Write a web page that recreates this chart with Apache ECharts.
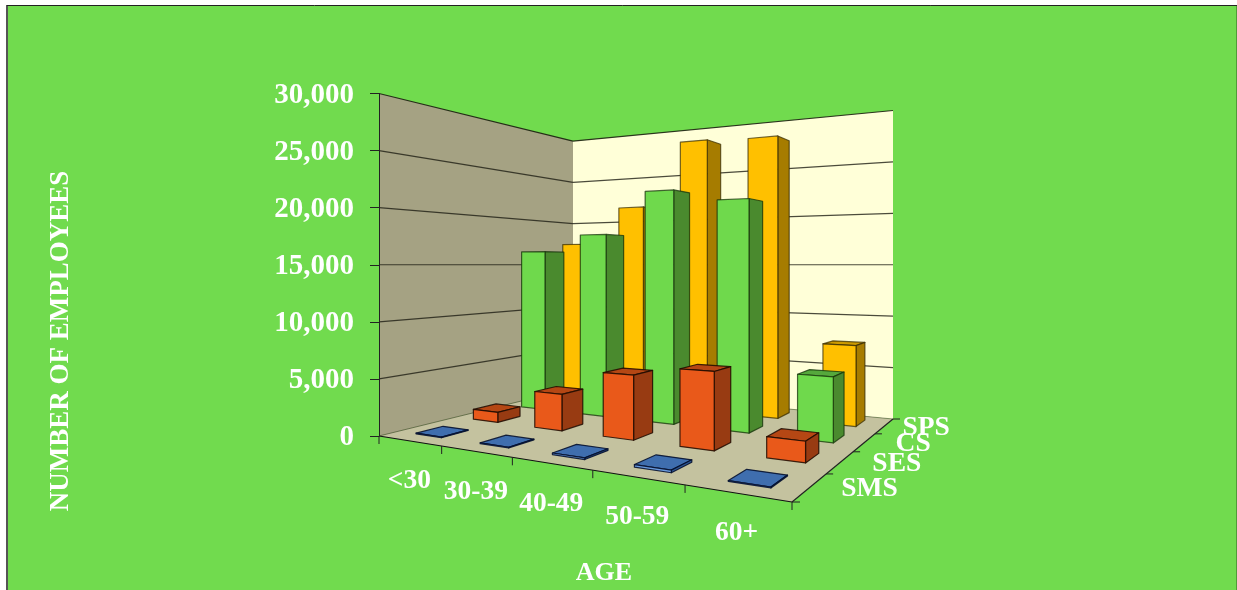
<!DOCTYPE html>
<html>
<head>
<meta charset="utf-8">
<style>
  html, body { margin: 0; padding: 0; background: #fff; }
  #chart { width: 1237px; height: 590px; }
</style>
<script src="https://cdn.jsdelivr.net/npm/echarts@6/dist/echarts.min.js"></script>
</head>
<body>
<div id="chart"></div>
<script>
// Employees by age band and pay system
const categories = ['<30', '30-39', '40-49', '50-59', '60+'];
const rowNames = ['SMS', 'SES', 'CS', 'SPS'];
const smsValues = [60, 60, 130, 190, 60];
const sesValues = [950, 3300, 5570, 6400, 1640];
const csValues = [16350, 18000, 22030, 20900, 5560];
const spsValues = [17300, 21200, 27800, 27570, 7500];
const yTicks = [0, 5000, 10000, 15000, 20000, 25000, 30000];

// Floor of the 3D box, in screen pixels: front-left, front-right, back-right, back-left
const FLOOR = [[379, 436], [792, 502], [893, 419], [573, 388.3]];
// The eye level sits at this value, so gridlines are flat there
const HORIZON_VALUE = 15000;
const BAR_WIDTH_FRACTION = 0.41;
const BAR_DEPTH_FRACTION = 0.45;
const SERIF = '"Liberation Serif", "DejaVu Serif", serif';
const LABEL_FONT = 'bold 27.5px ' + SERIF;
const RIGHT_LABEL_DX = [31, 32, 31, 18];

// Perspective mapping of the unit floor square onto the screen quad
const floorMap = (function () {
  const [[x0, y0], [x1, y1], [x2, y2], [x3, y3]] = FLOOR;
  const dx1 = x1 - x2, dx2 = x3 - x2, sx = x0 - x1 + x2 - x3;
  const dy1 = y1 - y2, dy2 = y3 - y2, sy = y0 - y1 + y2 - y3;
  const den = dx1 * dy2 - dx2 * dy1;
  const g = (sx * dy2 - dx2 * sy) / den;
  const h = (dx1 * sy - sx * dy1) / den;
  const a = x1 - x0 + g * x1, b = x3 - x0 + h * x3;
  const d = y1 - y0 + g * y1, e = y3 - y0 + h * y3;
  return (u, w) => {
    const q = g * u + h * w + 1;
    return [(a * u + b * w + x0) / q, (d * u + e * w + y0) / q];
  };
})();

// Raise a floor point to a given value, using the value axis scale
function lift(api, p, value) {
  const base = api.coord([0, 0])[1];
  const eye = api.coord([0, HORIZON_VALUE])[1];
  const at = api.coord([0, value])[1];
  return [p[0], eye + (p[1] - eye) * (at - eye) / (base - eye)];
}

function poly(points, fill, stroke, lineWidth) {
  return {
    type: 'polygon',
    shape: { points: points },
    style: { fill: fill, stroke: stroke || null, lineWidth: lineWidth || 0, lineJoin: 'round' }
  };
}
function seg(a, b, stroke, lineWidth) {
  return {
    type: 'line',
    shape: { x1: a[0], y1: a[1], x2: b[0], y2: b[1] },
    style: { stroke: stroke, lineWidth: lineWidth || 1, fill: null }
  };
}

// Walls, floor, gridlines and the ticks on the two floor edges
function renderBox(params, api) {
  if (params.dataIndex !== 0) return;
  const top = yTicks[yTicks.length - 1];
  const fl = floorMap(0, 0), fr = floorMap(1, 0), br = floorMap(1, 1), bl = floorMap(0, 1);
  const up = (p, v) => lift(api, p, v);
  const children = [
    poly([fl, bl, up(bl, top), up(fl, top)], '#A5A283'),
    poly([bl, br, up(br, top), up(bl, top)], '#FFFFD8'),
    poly([fl, fr, br, bl], '#C4C29F')
  ];
  yTicks.forEach(v => {
    if (v === 0) return;
    const c = v === top ? 'rgba(20,20,10,0.85)' : 'rgba(30,30,20,0.8)';
    children.push(seg(up(fl, v), up(bl, v), c, 1.2));
    children.push(seg(up(bl, v), up(br, v), c, 1.2));
  });
  children.push(seg(bl, br, 'rgba(60,60,40,0.5)'));
  children.push(seg(fl, bl, 'rgba(60,60,40,0.6)'));
  children.push(seg(fl, fr, '#111', 1.2));
  children.push(seg(fr, br, '#222', 1.2));
  categories.forEach((c, i) => {
    const p = floorMap((i + 1) / categories.length, 0);
    children.push(seg(p, [p[0], p[1] + 8], '#222'));
  });
  rowNames.forEach((c, i) => {
    const p = floorMap(1, (i + 1) / rowNames.length);
    children.push(seg(p, [p[0] + 7, p[1]], '#222'));
  });
  const p0 = floorMap(0, 0), p1 = floorMap(1, 0);
  children.push(seg(p0, [p0[0], p0[1] + 8], '#222'));
  children.push(seg(p1, [p1[0] + 8, p1[1]], '#222'));
  return { type: 'group', children: children };
}

// One row of 3D columns, front face toward the viewer
function rowRenderer(rowIndex, colors) {
  return function (params, api) {
    const cat = api.value(0), value = api.value(1);
    const uPad = (1 - BAR_WIDTH_FRACTION) / 2;
    const wPad = 0.3;
    const u0 = (cat + uPad) / categories.length, u1 = (cat + 1 - uPad) / categories.length;
    const w0 = (rowIndex + wPad) / rowNames.length;
    const w1 = (rowIndex + wPad + BAR_DEPTH_FRACTION) / rowNames.length;
    const a = floorMap(u0, w0), b = floorMap(u1, w0), c = floorMap(u1, w1), d = floorMap(u0, w1);
    const [ta, tb, tc, td] = [a, b, c, d].map(p => lift(api, p, value));
    const parts = [
      poly([b, c, tc, tb], colors.side, colors.edge, 1.2),
      poly([a, b, tb, ta], colors.front, colors.edge, 1.2)
    ];
    // The top face only shows while the column stays below eye level
    if (value < HORIZON_VALUE) {
      parts.unshift(poly([ta, tb, tc, td], colors.top, colors.edge, 1.2));
    }
    return { type: 'group', children: parts };
  };
}

function textItem(text, x, y, align) {
  return {
    type: 'text',
    style: { text: text, x: x, y: y, fill: '#fff', font: LABEL_FONT, align: align, verticalAlign: 'middle' }
  };
}

const rowStyles = [
  { values: smsValues, front: '#6A9BDD', side: '#2F5A96', top: '#3F6EAE', edge: 'rgba(0,10,40,0.85)' },
  { values: sesValues, front: '#E9591A', side: '#983B12', top: '#B54714', edge: 'rgba(30,10,0,0.85)' },
  { values: csValues, front: '#6FD94C', side: '#4A8A2E', top: '#55A83C', edge: 'rgba(20,50,10,0.75)' },
  { values: spsValues, front: '#FFC000', side: '#A67C00', top: '#CC9A00', edge: 'rgba(50,40,0,0.7)' }
];

// Back row first so nearer columns paint over farther ones
const barSeries = rowStyles.map((s, i) => ({
  type: 'custom',
  name: rowNames[i],
  coordinateSystem: 'cartesian2d',
  z: 6 - i,
  clip: false,
  silent: true,
  renderItem: rowRenderer(i, s),
  data: s.values.map((v, c) => [c, v])
}));

const option = {
  animation: false,
  backgroundColor: '#fff',
  grid: { left: 379, top: 93.5, width: 414, height: 342.5 },
  xAxis: { type: 'category', data: categories, show: false },
  yAxis: {
    type: 'value',
    min: 0,
    max: 30000,
    interval: 5000,
    z: 10,
    axisLine: { show: true, lineStyle: { color: '#222' } },
    axisTick: { show: true, length: 9, lineStyle: { color: '#222' } },
    splitLine: { show: false },
    axisLabel: {
      margin: 25,
      formatter: '{tick|{value}}',
      rich: {
        tick: { padding: [4, 0, 0, 0], color: '#fff', fontFamily: SERIF, fontWeight: 'bold', fontSize: 29 }
      }
    }
  },
  graphic: [
    { type: 'rect', z: -10, shape: { x: 6.5, y: 5.5, width: 1240, height: 600 },
      style: { fill: '#71DB4E', stroke: '#222', lineWidth: 1 } },
    { type: 'line', z: -9, shape: { x1: 7, y1: 6, x2: 7, y2: 590 },
      style: { stroke: '#555', lineWidth: 2 } },
    { type: 'line', z: -9, shape: { x1: 1236.5, y1: 6, x2: 1236.5, y2: 590 },
      style: { stroke: '#4F9C37', lineWidth: 1 } },
    { type: 'text', z: 5, x: 61, y: 341, rotation: Math.PI / 2,
      style: { text: 'NUMBER OF EMPLOYEES', fill: '#fff', font: 'bold 27px ' + SERIF, align: 'center', verticalAlign: 'middle' } },
    { type: 'text', z: 5, x: 604, y: 573,
      style: { text: 'AGE', fill: '#fff', font: 'bold 26px ' + SERIF, align: 'center', verticalAlign: 'middle' } }
  ],
  series: [
    { type: 'custom', name: 'box', coordinateSystem: 'cartesian2d', z: 1, silent: true,
      renderItem: renderBox, data: [[0, 0]] }
  ].concat(barSeries).concat([
    { type: 'custom', name: 'age labels', coordinateSystem: 'cartesian2d', z: 8, silent: true,
      renderItem: (params, api) => {
        const p = floorMap((api.value(0) + 0.5) / categories.length, 0);
        return textItem(categories[api.value(0)], p[0], p[1] + 40, 'center');
      },
      data: categories.map((c, i) => [i, 0]) },
    { type: 'custom', name: 'row labels', coordinateSystem: 'cartesian2d', z: 8, silent: true,
      renderItem: (params, api) => {
        const i = api.value(0);
        const p = floorMap(1, (i + 0.5) / rowNames.length);
        return textItem(rowNames[i], p[0] + RIGHT_LABEL_DX[i], p[1] + 1.5, 'left');
      },
      data: rowNames.map((c, i) => [i, 0]) }
  ])
};

echarts.init(document.getElementById('chart')).setOption(option);
</script>
</body>
</html>
